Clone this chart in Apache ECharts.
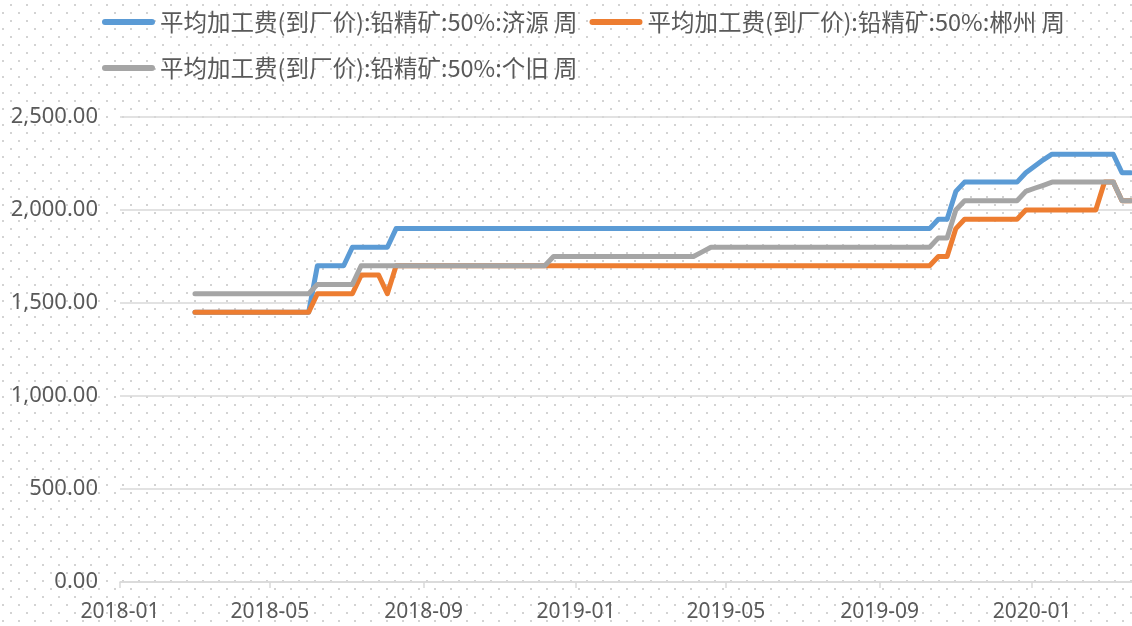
<!DOCTYPE html>
<html><head><meta charset="utf-8">
<script src="https://cdn.jsdelivr.net/npm/echarts@6/dist/echarts.min.js"></script>
<style>html,body{margin:0;padding:0;background:#fff}#c{width:1132px;height:626px}</style>
</head><body><div id="c"></div>
<script>
// ---- data ----
const seriesNames = [
  '平均加工费(到厂价):铅精矿:50%:济源 周',
  '平均加工费(到厂价):铅精矿:50%:郴州 周',
  '平均加工费(到厂价):铅精矿:50%:个旧 周'
];
const firstWeek = [2018, 2, 2]; // 2018-03-02, weekly observations
const weekCount = 108;
const xTickMonths = ['2018-01','2018-05','2018-09','2019-01','2019-05','2019-09','2020-01'];
const yTicks = [0, 500, 1000, 1500, 2000, 2500];

const jiyuan = [
  1450,1450,1450,1450,1450,1450,1450,1450,1450,1450,
  1450,1450,1450,1450,1700,1700,1700,1700,1800,1800,
  1800,1800,1800,1900,1900,1900,1900,1900,1900,1900,
  1900,1900,1900,1900,1900,1900,1900,1900,1900,1900,
  1900,1900,1900,1900,1900,1900,1900,1900,1900,1900,
  1900,1900,1900,1900,1900,1900,1900,1900,1900,1900,
  1900,1900,1900,1900,1900,1900,1900,1900,1900,1900,
  1900,1900,1900,1900,1900,1900,1900,1900,1900,1900,
  1900,1900,1900,1900,1900,1950,1950,2100,2150,2150,
  2150,2150,2150,2150,2150,2200,2235,2270,2300,2300,
  2300,2300,2300,2300,2300,2300,2200,2200
];
const chenzhou = [
  1450,1450,1450,1450,1450,1450,1450,1450,1450,1450,
  1450,1450,1450,1450,1550,1550,1550,1550,1550,1650,
  1650,1650,1550,1700,1700,1700,1700,1700,1700,1700,
  1700,1700,1700,1700,1700,1700,1700,1700,1700,1700,
  1700,1700,1700,1700,1700,1700,1700,1700,1700,1700,
  1700,1700,1700,1700,1700,1700,1700,1700,1700,1700,
  1700,1700,1700,1700,1700,1700,1700,1700,1700,1700,
  1700,1700,1700,1700,1700,1700,1700,1700,1700,1700,
  1700,1700,1700,1700,1700,1750,1750,1900,1950,1950,
  1950,1950,1950,1950,1950,2000,2000,2000,2000,2000,
  2000,2000,2000,2000,2150,2150,2050,2050
];
const gejiu = [
  1550,1550,1550,1550,1550,1550,1550,1550,1550,1550,
  1550,1550,1550,1550,1600,1600,1600,1600,1600,1700,
  1700,1700,1700,1700,1700,1700,1700,1700,1700,1700,
  1700,1700,1700,1700,1700,1700,1700,1700,1700,1700,
  1700,1750,1750,1750,1750,1750,1750,1750,1750,1750,
  1750,1750,1750,1750,1750,1750,1750,1750,1775,1800,
  1800,1800,1800,1800,1800,1800,1800,1800,1800,1800,
  1800,1800,1800,1800,1800,1800,1800,1800,1800,1800,
  1800,1800,1800,1800,1800,1850,1850,2000,2050,2050,
  2050,2050,2050,2050,2050,2100,2117,2133,2150,2150,
  2150,2150,2150,2150,2150,2150,2050,2050
];
const colors = ['#5B9BD5', '#ED7D31', '#A5A5A5'];

// ---- dotted background ----
(function(){
  const cv = document.createElement('canvas'); cv.width = 16; cv.height = 16;
  const g = cv.getContext('2d'); g.fillStyle = '#d3d3d3';
  g.fillRect(10, 4, 2, 2); g.fillRect(2, 12, 2, 2);
  document.getElementById('c').style.backgroundImage = 'url(' + cv.toDataURL() + ')';
})();

const dates = [];
for (let k = 0; k < weekCount; k++) dates.push(new Date(firstWeek[0], firstWeek[1], firstWeek[2] + 7 * k).getTime());
const xMin = new Date(2018, 0, 1).getTime();
const xMax = new Date(2018, 0, 1 + 810).getTime();
const tickVals = xTickMonths.map(s => { const p = s.split('-'); return new Date(+p[0], +p[1] - 1, 1).getTime(); });
const pair = arr => arr.map((v, i) => [dates[i], v]);
const txt = '#595959';

const chart = echarts.init(document.getElementById('c'), null, {renderer: 'canvas'});
chart.setOption({
  backgroundColor: 'transparent',
  animation: false,
  color: colors,
  textStyle: {fontFamily: 'Noto Sans, Noto Sans CJK SC, sans-serif'},
  legend: {
    left: 97, top: 0,
    itemWidth: 53, itemHeight: 6, itemGap: 12,
    icon: 'path://M3,0 L50,0 A3,3 0 0 1 50,6 L3,6 A3,3 0 0 1 3,0 Z',
    textStyle: {color: txt, fontSize: 23.5, lineHeight: 34, fontFamily: 'Noto Sans CJK SC'},
    data: seriesNames
  },
  grid: {left: 120, right: 0, top: 117, bottom: 44},
  xAxis: {
    type: 'value', min: xMin, max: xMax, scale: true,
    axisLine: {lineStyle: {color: '#d9d9d9', width: 1.5}},
    axisTick: {show: true, customValues: tickVals, length: 6, lineStyle: {color: '#d9d9d9', width: 1.5}},
    axisLabel: {
      customValues: tickVals, color: txt, fontSize: 21, margin: 20,
      formatter: v => { const d = new Date(v); return d.getFullYear() + '-' + String(d.getMonth() + 1).padStart(2, '0'); }
    },
    splitLine: {show: false}
  },
  yAxis: {
    type: 'value', min: yTicks[0], max: yTicks[yTicks.length - 1], interval: 500,
    axisLine: {show: false}, axisTick: {show: false},
    axisLabel: {color: txt, fontSize: 22, margin: 22,
      formatter: v => v.toLocaleString('en-US', {minimumFractionDigits: 2, maximumFractionDigits: 2})},
    splitLine: {lineStyle: {color: '#d9d9d9', width: 1.5}}
  },
  series: [jiyuan, chenzhou, gejiu].map((arr, i) => ({
    name: seriesNames[i], type: 'line', data: pair(arr),
    showSymbol: false, symbol: 'none',
    lineStyle: {width: 5, color: colors[i], cap: 'round', join: 'round'},
    itemStyle: {color: colors[i]}
  }))
});
</script></body></html>
